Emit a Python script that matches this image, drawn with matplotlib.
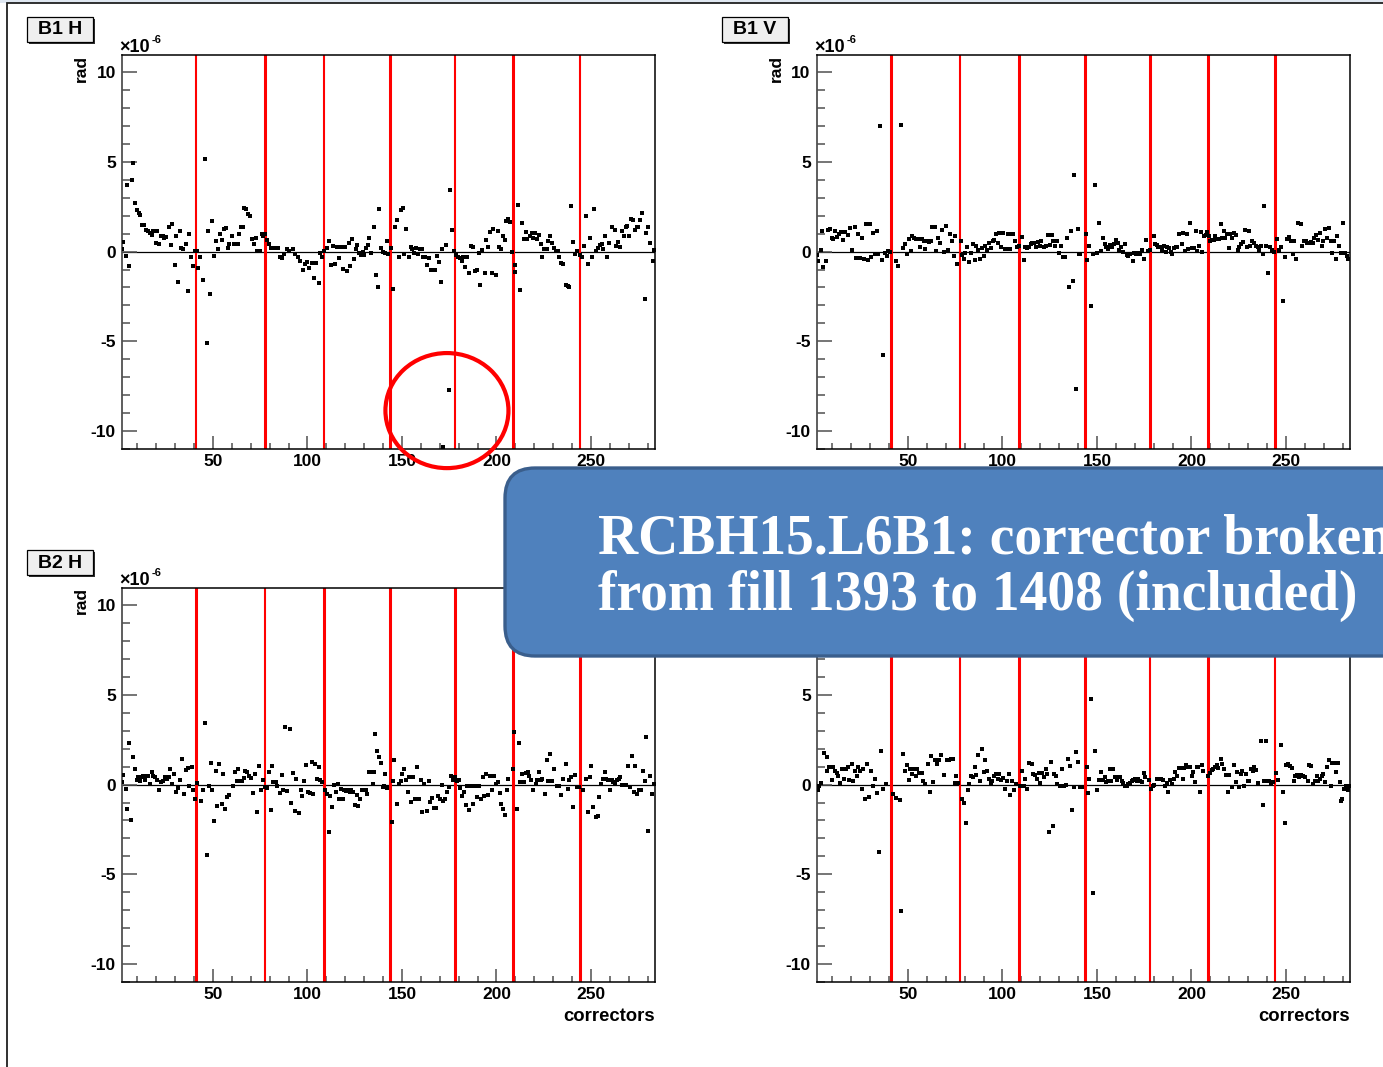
import matplotlib
matplotlib.use('Agg')
import matplotlib.pyplot as plt
from matplotlib.patches import Ellipse, FancyBboxPatch, Rectangle
from matplotlib.ticker import MultipleLocator
from matplotlib.transforms import IdentityTransform

plt.rcParams['font.family'] = ['Liberation Sans', 'DejaVu Sans']
plt.rcParams['font.weight'] = 'bold'
plt.rcParams['axes.unicode_minus'] = False

# corrector index / kick (1e-6 rad) per plane
B1H_X = [1.7, 2.6, 3.8, 4.7, 5.7, 7.0, 7.5, 8.6, 9.6, 10.7,
         11.5, 12.3, 13.7, 14.5, 15.4, 16.7, 17.5, 18.4, 19.7, 20.5,
         21.6, 22.3, 23.4, 24.2, 25.1, 26.7, 27.6, 28.5, 29.9, 30.6,
         31.5, 32.5, 33.2, 34.3, 35.7, 36.8, 37.5, 38.5, 39.6, 40.5,
         41.4, 42.1, 43.1, 44.5, 45.8, 46.8, 47.4, 48.4, 49.6, 50.5,
         51.6, 52.6, 53.5, 54.6, 55.6, 56.7, 57.8, 58.6, 59.9, 60.9,
         62.0, 63.0, 63.8, 64.6, 65.7, 66.6, 67.5, 68.7, 69.8, 70.6,
         71.7, 72.6, 73.5, 74.7, 75.7, 76.6, 77.7, 78.6, 79.6, 80.7,
         81.9, 83.2, 84.6, 85.6, 86.7, 87.6, 89.0, 90.4, 92.1, 93.4,
         94.8, 96.0, 97.4, 98.7, 99.7, 101.0, 102.4, 103.4, 104.7, 105.9,
         106.8, 107.8, 108.9, 110.1, 111.4, 112.4, 113.7, 114.5, 115.6, 116.5,
         117.5, 118.8, 119.8, 120.7, 121.8, 122.5, 123.5, 124.6, 125.5, 126.4,
         127.4, 128.1, 129.2, 130.1, 131.0, 131.8, 132.7, 133.8, 135.0, 136.1,
         137.1, 137.7, 138.9, 140.1, 141.2, 141.9, 142.8, 144.2, 145.1, 146.3,
         147.6, 148.5, 149.3, 150.4, 151.3, 152.3, 153.6, 154.6, 155.5, 156.6,
         157.4, 158.3, 159.4, 160.4, 161.3, 162.4, 163.4, 164.5, 165.6, 166.6,
         167.5, 168.4, 169.4, 170.7, 171.2, 171.7, 173.5, 174.9, 175.4, 176.5,
         177.6, 178.6, 179.7, 180.7, 181.6, 182.5, 183.5, 184.6, 185.3, 186.5,
         187.8, 188.7, 189.9, 190.8, 191.3, 192.5, 193.8, 194.5, 195.5, 196.6,
         197.7, 198.4, 199.6, 200.8, 201.4, 202.4, 203.5, 204.4, 205.2, 206.3,
         207.2, 208.2, 209.7, 210.0, 211.2, 212.5, 213.7, 214.4, 215.5, 216.4,
         217.6, 218.6, 219.5, 220.4, 221.3, 222.4, 223.4, 224.3, 225.3, 226.6,
         227.5, 228.5, 229.4, 230.3, 231.3, 232.4, 233.3, 234.2, 235.2, 236.6,
         237.7, 238.6, 239.6, 240.3, 241.4, 242.8, 244.2, 245.5, 246.2, 247.4,
         248.6, 249.7, 250.4, 251.5, 252.9, 254.0, 254.8, 255.7, 256.6, 257.5,
         258.5, 259.7, 261.3, 262.7, 263.3, 264.3, 265.4, 266.3, 267.3, 268.4,
         269.3, 270.3, 271.4, 272.4, 273.3, 274.2, 275.1, 276.0, 277.2, 278.6,
         279.1, 280.4, 281.4, 282.7, 283.4]
B1H_Y = [0.13, 0.52, -0.24, 3.68, -0.78, 4.0, 4.96, 2.73, 2.32, 2.17,
         2.04, 1.5, 1.5, 1.2, 1.15, 1.02, 0.91, 1.15, 0.46, 1.15,
         0.41, 0.84, 0.87, 0.74, 0.8, 1.39, 0.35, 1.52, -0.76, 0.84,
         -1.71, 1.15, 0.19, 0.13, 0.41, -2.21, 0.97, -0.28, -0.78, 0.04,
         0.04, -0.89, -0.33, -1.58, 5.18, -5.07, 1.15, -2.38, 1.71, -0.24,
         0.59, 0.15, 0.97, 0.65, 1.26, 1.32, 0.22, 0.41, 0.89, 0.41,
         0.41, 0.41, 0.97, 1.39, 1.39, 2.45, 2.38, 2.1, 2.0, 0.71,
         0.41, 0.78, 0.04, 0.04, 0.97, 0.87, 0.97, 0.65, 0.41, 0.19,
         0.22, 0.22, 0.22, -0.28, -0.37, -0.15, 0.15, 0.04, 0.15, -0.15,
         -0.33, -0.52, -1.02, -0.69, -0.59, -0.93, -0.61, -1.5, -0.61, -1.73,
         -0.09, -0.28, 0.04, 0.22, 0.59, -0.76, 0.32, -0.69, 0.28, -0.37,
         0.28, -0.98, 0.28, -1.11, 0.5, -0.8, 0.69, -0.41, 0.13, 0.37,
         -0.09, -0.19, 0.0, -0.19, 0.22, 0.37, 0.78, -0.09, 1.34, -1.32,
         -2.0, 2.38, 0.22, 0.0, -0.09, 0.59, -0.15, 0.22, -2.08, 1.34,
         1.76, -0.28, 2.32, 2.45, -0.15, 1.26, -0.33, 0.28, 0.13, -0.09,
         0.19, -0.15, 0.15, 0.13, -0.28, -0.33, -0.74, -0.37, -1.02, -1.02,
         -1.02, -0.24, -0.59, -1.71, 0.15, -10.9, 0.35, -7.7, 3.44, 1.21,
         0.04, -0.19, -0.33, -0.37, -0.52, -0.33, -0.84, -0.33, -1.21, 0.33,
         0.28, -1.08, -1.02, -0.09, -1.89, 0.06, -1.21, 0.65, 0.28, 1.11,
         -1.21, 1.26, -1.32, 1.15, 0.28, 0.15, 0.84, 0.65, 1.71, 1.82,
         1.63, -0.02, -1.15, -0.74, 2.6, -2.14, 1.58, 0.71, 1.11, 0.71,
         0.87, 1.06, 0.78, 1.06, 0.71, 0.91, 0.41, -0.28, 0.13, 0.13,
         0.59, 0.84, 0.46, 0.22, 0.04, 0.04, -0.28, -0.65, -0.71, -1.86,
         -1.91, -1.99, 2.56, 0.52, -0.13, 0.04, -0.19, -0.33, 0.33, 2.0,
         -0.71, 0.78, -0.33, 2.38, 0.04, 0.19, 0.37, 0.41, 0.15, 0.84,
         -0.28, 0.46, 1.39, 1.21, 0.33, 0.52, 0.28, 1.15, 0.84, 1.34,
         1.45, 0.89, 1.82, 1.73, 1.21, 1.34, 1.36, 1.73, 2.17, -2.64,
         1.02, 1.39, 0.46, -0.52, 0.06]

B1V_X = [1.7, 2.6, 3.8, 4.7, 5.2, 6.4, 7.5, 8.7, 9.6, 10.5,
         11.5, 12.4, 13.5, 14.5, 15.6, 16.7, 18.1, 19.3, 20.5, 21.8,
         22.7, 23.7, 24.6, 25.7, 26.5, 27.6, 28.7, 29.7, 30.6, 31.5,
         32.5, 33.4, 34.3, 35.4, 36.4, 36.8, 37.8, 38.7, 39.6, 40.6,
         43.5, 44.7, 46.3, 47.2, 48.4, 49.5, 50.3, 51.4, 52.3, 53.3,
         54.4, 55.5, 56.2, 57.2, 58.3, 59.0, 60.1, 61.1, 62.0, 62.9,
         64.1, 64.6, 66.1, 66.9, 68.0, 69.0, 70.3, 71.3, 72.0, 73.3,
         74.3, 75.0, 76.1, 77.9, 78.4, 79.4, 80.3, 81.2, 82.1, 83.5,
         84.2, 85.3, 86.2, 87.0, 88.1, 89.0, 90.0, 90.9, 92.0, 92.9,
         93.7, 94.8, 95.5, 96.4, 97.4, 98.3, 99.2, 100.1, 101.1, 102.0,
         102.9, 103.8, 104.7, 105.7, 106.6, 107.5, 108.9, 110.1, 111.2, 111.9,
         113.0, 114.0, 114.9, 115.8, 116.7, 117.7, 118.6, 119.7, 120.5, 121.8,
         122.8, 123.9, 124.9, 126.0, 126.9, 127.8, 128.8, 129.9, 130.9, 132.0,
         132.9, 134.1, 135.2, 136.1, 137.1, 138.0, 139.0, 139.8, 140.5, 141.2,
         144.2, 144.9, 145.8, 146.9, 148.1, 149.0, 149.9, 151.1, 152.0, 153.0,
         154.1, 155.0, 155.9, 156.7, 157.8, 158.9, 159.9, 161.0, 161.9, 162.7,
         163.6, 164.7, 165.7, 166.6, 167.7, 168.9, 169.8, 170.9, 171.9, 172.8,
         173.7, 174.7, 175.8, 176.8, 178.0, 180.0, 180.7, 181.6, 182.5, 183.6,
         184.6, 185.5, 186.4, 187.3, 188.1, 189.0, 189.7, 190.6, 191.7, 192.5,
         193.6, 194.8, 195.5, 196.6, 197.5, 198.4, 199.4, 200.3, 201.4, 202.2,
         203.0, 203.8, 204.9, 205.7, 206.5, 207.5, 208.4, 209.3, 210.0, 210.9,
         211.8, 212.7, 213.5, 214.4, 215.5, 216.2, 217.2, 218.0, 218.8, 219.7,
         220.4, 221.3, 222.4, 223.4, 224.5, 225.2, 226.1, 227.1, 228.2, 229.6,
         230.3, 231.2, 232.2, 233.3, 234.2, 235.2, 235.8, 236.6, 237.7, 238.4,
         239.6, 240.5, 241.4, 242.5, 243.7, 245.5, 246.3, 247.2, 248.5, 249.5,
         250.4, 251.5, 252.7, 253.6, 254.4, 255.5, 256.6, 257.8, 258.3, 259.6,
         260.4, 261.3, 262.4, 263.3, 264.1, 265.0, 266.1, 267.1, 268.0, 268.9,
         269.8, 270.7, 271.7, 272.8, 273.7, 274.6, 275.6, 276.3, 277.2, 278.3,
         279.0, 280.0, 281.1, 282.1, 283.0]
B1V_Y = [-0.19, -0.5, 0.09, 1.15, -0.84, -0.52, 1.21, 1.26, 0.74, 0.69,
         1.17, 0.8, 0.97, 1.08, 0.65, 1.08, 0.93, 1.3, 0.09, 1.39,
         -0.37, 0.97, -0.37, 0.74, -0.43, 1.52, -0.46, 1.54, -0.28, 1.06,
         -0.13, 1.15, -0.13, 7.0, -0.46, -5.74, -0.09, -0.22, 0.04, 0.0,
         -0.52, -0.78, 7.06, 0.22, 0.43, -0.15, 0.69, 0.04, 0.84, 0.78,
         0.69, 0.72, 0.28, 0.71, 0.59, 0.15, 0.61, 0.52, 0.59, 1.34,
         1.34, 0.04, 0.78, 0.46, 1.21, 0.0, 1.45, 0.09, 0.97, 0.59,
         -0.22, 0.84, -0.71, 0.59, -0.19, -0.43, -0.09, 0.28, -0.59, -0.06,
         0.41, -0.46, 0.33, 0.09, -0.41, 0.19, -0.22, 0.33, 0.06, 0.46,
         0.19, 0.59, 0.65, 0.97, 0.46, 1.02, 0.28, 1.02, 0.15, 0.15,
         0.97, 0.15, 0.97, 0.97, 0.59, 0.28, 0.33, 0.8, -0.46, 0.28,
         0.19, 0.28, 0.41, 0.46, 0.46, 0.28, 0.52, 0.32, 0.56, 0.28,
         0.33, 0.93, 0.37, 0.93, 0.56, 0.33, 0.56, -0.09, 0.33, -0.28,
         -0.33, 0.78, -2.0, 1.15, -1.63, 4.27, -7.63, 1.26, -0.13, -0.15,
         0.97, -0.46, 0.33, -3.06, -0.13, 3.71, -0.09, 1.58, 0.04, 0.78,
         0.41, 0.28, 0.13, 0.37, 0.28, 0.41, 0.65, 0.46, 0.09, 0.24,
         0.0, 0.41, -0.19, -0.22, -0.15, -0.52, -0.09, -0.13, -0.09, -0.13,
         0.06, -0.41, 0.65, 0.04, 0.1, 0.84, 0.43, 0.37, 0.28, 0.28,
         0.09, 0.33, 0.0, 0.28, 0.19, 0.0, -0.15, 0.22, 0.28, 0.24,
         0.97, 0.41, 1.02, 0.04, 0.98, 0.15, 1.58, 0.19, 0.19, 1.15,
         0.04, 0.33, 1.08, 0.0, 0.84, 0.93, 1.08, 0.87, 0.59, 0.65,
         0.65, 0.84, 0.69, 0.69, 1.52, 0.78, 1.15, 0.78, 0.97, 0.22,
         0.97, 0.78, 1.02, 0.93, 0.09, 0.28, 0.41, 0.52, 1.21, 0.28,
         1.15, 0.33, 0.61, 0.46, 0.33, 0.28, 0.06, 0.33, -0.13, 2.51,
         0.33, -1.21, 0.28, 0.06, 0.0, 0.69, 0.09, 0.28, -2.75, -0.33,
         0.69, 0.8, 0.56, -0.15, 0.59, -0.41, 1.58, 1.52, 0.33, 0.56,
         0.59, 0.46, 0.46, 0.52, 0.46, 0.78, 0.93, 0.65, 1.02, 0.33,
         0.59, 1.26, 0.78, 1.3, 0.59, -0.09, 0.56, -0.41, 0.89, 0.33,
         -0.09, 1.58, -0.09, -0.22, -0.41]

B2H_X = [1.7, 2.6, 4.0, 4.7, 5.7, 6.8, 7.5, 8.7, 9.6, 10.5,
         11.4, 12.3, 13.1, 14.0, 14.9, 15.8, 16.7, 17.5, 18.4, 19.3,
         20.2, 21.6, 22.7, 23.7, 24.6, 25.5, 26.5, 27.4, 28.5, 29.5,
         30.4, 31.7, 32.7, 33.4, 34.7, 35.7, 36.6, 37.5, 38.7, 39.4,
         40.5, 41.4, 43.5, 44.5, 45.8, 46.6, 47.7, 48.8, 49.5, 50.5,
         51.6, 52.3, 53.3, 54.6, 55.5, 56.3, 57.2, 58.3, 60.4, 61.5,
         62.5, 63.4, 64.3, 65.3, 66.2, 67.1, 68.2, 69.0, 70.1, 71.0,
         72.0, 73.3, 74.5, 75.2, 76.3, 77.5, 78.4, 79.5, 80.5, 81.2,
         81.9, 83.2, 84.0, 85.3, 86.3, 87.2, 88.3, 89.3, 90.7, 91.1,
         92.1, 93.4, 94.1, 95.3, 96.4, 97.1, 98.1, 99.4, 100.3, 101.3,
         102.2, 103.1, 103.8, 104.8, 105.9, 106.6, 107.5, 109.3, 110.5, 111.2,
         111.9, 113.0, 114.0, 115.1, 116.0, 116.8, 117.7, 118.6, 119.5, 120.4,
         121.4, 122.5, 123.2, 124.2, 125.1, 126.0, 126.9, 127.8, 128.8, 129.9,
         130.8, 131.7, 132.7, 133.6, 134.5, 135.4, 135.9, 137.0, 137.8, 138.7,
         139.8, 140.5, 141.2,
         141.9, 144.6, 145.1, 146.0, 147.2, 148.3, 149.3, 150.2, 151.1, 152.2,
         153.0, 153.9, 154.8, 155.7, 156.9, 157.8, 158.9, 159.9, 160.8, 161.9,
         163.1, 164.2, 164.9, 165.7, 167.0, 167.9, 168.9, 170.1, 171.0, 171.9,
         172.8, 173.7, 174.7, 175.8, 176.8, 178.1, 178.9, 180.0, 180.9, 181.8,
         182.7, 183.7, 184.6, 185.7, 186.5, 187.8, 188.5, 189.5, 190.6, 191.7,
         192.7, 193.6, 194.5, 195.5, 196.6, 197.8, 198.9, 199.8, 200.8, 201.9,
         202.6, 203.7, 204.5, 205.4, 206.3, 209.0, 209.5, 210.7, 211.8, 212.7,
         213.4, 214.4, 215.5, 216.5, 217.4, 218.3, 219.5, 220.8, 221.3, 222.5,
         223.4, 224.3, 225.5, 226.6, 227.5, 228.3, 229.6, 230.6, 231.9, 233.0,
         234.2, 235.4, 236.6, 237.7, 238.6, 239.5, 240.7, 241.6, 242.5, 243.7,
         245.9, 247.2, 248.5, 249.5, 250.0, 251.3, 252.7, 253.7, 254.3, 255.3,
         256.4, 257.3, 258.0, 259.1, 260.1, 261.0, 261.9, 262.9, 263.8, 264.7,
         265.6, 266.6, 267.7, 268.6, 269.6, 270.7, 271.6, 272.8, 273.5, 274.4,
         275.4, 276.3, 277.4, 278.4, 279.1, 280.4, 281.3, 282.3, 283.4]
B2H_Y = [0.13, 0.52, -0.24, -1.34, 2.32, -1.95, 1.52, 0.84, 0.28, 0.41,
         0.19, 0.41, 0.46, 0.28, 0.46, 0.5, 0.04, 0.69, 0.5, 0.41,
         0.28, -0.28, 0.13, 0.22, 0.41, 0.33, 0.41, 0.84, 0.04, 0.61,
         -0.41, -0.19, 0.28, 1.45, -0.52, 0.8, 0.93, -0.09, 0.97, -0.28,
         -0.78, 0.09, -0.89, -0.33, 3.44, -3.9, -0.06, 1.21, -0.28, -2.04,
         0.78, -1.17, 1.15, -1.06, 0.59, -1.34, -0.71, -0.56, -0.06, 0.71,
         0.19, 0.89, 0.19, 0.19, 0.37, 0.74, 0.69, 0.46, 0.37, -0.46,
         0.59, -1.52, 1.02, -0.32, 0.28, -0.15, -0.19, 0.69, -1.39, 1.02,
         0.13, 0.13, -0.06, -0.46, 0.52, -0.33, 3.19, -0.37, 3.12, -1.02,
         0.65, -1.45, 0.33, -1.58, -0.28, -0.65, 0.22, 1.08, -0.41, -0.46,
         1.26, -0.52, 1.15, 0.33, 0.97, 0.28, 0.13, -0.28, -0.52, -2.64,
         -0.65, -1.26, -0.04, -0.41, 0.04, -0.78, -0.24, -0.78, -0.28, -0.37,
         -0.28, -0.41, -0.28, -0.41, -1.15, -0.59, -1.21, -0.78, -0.28, -0.28,
         -0.33, -0.52, 0.69, 0.69, 0.04, 0.69, 2.82, 1.89, 1.52, 1.21,
         -0.15, -0.06, 0.59,
         -0.19, -2.08, 0.22, 1.34, -1.08, 0.04, 0.19, 0.56, 0.84, 0.28,
         -0.41, 0.41, -0.97, 0.41, -0.78, 0.97, -0.78, 0.28, -1.52, 0.04,
         -1.49, 0.22, -0.97, -0.74, -1.3, -1.3, -0.65, -0.78, -0.04, -0.89,
         -0.78, -0.41, -0.13, 0.46, 0.28, 0.41, 0.22, 0.28, -0.19, -0.65,
         -0.41, -1.15, -0.09, -1.43, -0.09, -1.11, -0.09, -0.71, -0.09, -0.78,
         0.41, -0.65, 0.59, -0.59, 0.46, -0.28, 0.46, 0.04, 0.15, -0.46,
         -1.06, -1.34, -1.71, -0.28, 0.33, 0.89, 2.93, -1.34, 2.32, 0.15,
         0.61, 0.15, 0.65, 0.69, 0.46, 0.28, -0.28, 0.04, 0.28, 0.69,
         0.28, 0.33, -0.52, 1.39, 0.22, 1.71, 0.22, 0.84, -0.09, -0.09,
         -0.59, 0.33, 1.15, -0.22, 0.28, 0.41, -1.26, 0.52, -0.13, -0.13,
         -0.28, 0.33, -1.52, 0.41, 1.02, -1.26, -1.82, -1.76, -0.71, 0.04,
         0.33, 0.71, 0.33, 0.28, -0.28, 0.28, 0.13, 0.09, 0.28, 0.33,
         0.41, -0.04, -0.04, -0.04, 1.02, -0.13, 1.58, -0.41, 1.02, -0.52,
         -0.33, -0.33, 0.78, 0.22, 2.64, -2.56, 0.46, -0.52, 0.04]

B2V_X = [2.2, 2.9, 4.0, 5.6, 7.0, 7.3, 8.4, 9.6, 10.5, 11.4,
         12.3, 13.1, 14.2, 15.3, 16.3, 17.0, 18.1, 19.0, 20.2, 21.1,
         22.0, 22.8, 23.7, 24.8, 25.7, 26.4, 27.2, 28.3, 29.5, 30.4,
         31.3, 32.5, 33.4, 34.5, 35.7, 36.9, 38.4, 42.2, 43.5, 45.8,
         46.3, 47.4, 48.4, 49.3, 50.4, 51.2, 52.3, 53.2, 54.1, 54.9,
         56.0, 57.2, 58.1, 59.0, 60.4, 61.6, 62.3, 63.4, 64.5, 65.5,
         66.6, 67.6, 69.2, 70.5, 71.7, 72.6, 73.6, 74.9, 75.4, 76.3,
         78.7, 79.5, 80.5, 81.6, 82.4, 83.3, 84.4, 85.3, 86.2, 87.2,
         88.3, 89.3, 90.2, 90.9, 92.0, 92.9, 93.7, 94.6, 95.5, 96.4,
         97.4, 98.3, 99.2, 100.1, 101.3, 102.4, 103.4, 104.0, 104.8, 105.9,
         107.0, 109.3, 110.3, 111.2, 111.9, 113.1, 114.2, 115.4, 116.3, 117.2,
         118.3, 119.1, 119.8, 120.9, 121.8, 122.8, 123.7, 124.8, 125.7, 126.5,
         127.4, 128.3, 129.0, 130.2, 131.3, 132.4, 133.4, 134.5, 135.7, 136.8,
         138.0, 138.7, 139.8, 141.0, 142.0, 144.6, 145.1, 146.0, 146.9, 148.1,
         149.0, 150.2, 151.1, 152.0, 153.0, 154.1, 155.0, 155.9, 156.7, 157.6,
         158.7, 159.6, 160.4, 161.3, 162.2, 163.1, 164.0, 164.9, 165.7, 166.6,
         167.5, 168.4, 169.3, 170.1, 171.0, 171.9, 172.8, 173.7, 174.7, 175.4,
         177.6, 178.6, 179.5, 180.4, 181.6, 182.8, 183.9, 185.0, 186.0, 186.9,
         187.8, 188.8, 189.7, 190.6, 191.5, 192.4, 193.4, 194.5, 195.4, 196.2,
         197.3, 198.4, 199.2, 200.1, 200.8, 201.9, 202.8, 203.7, 204.5, 205.4,
         206.3, 208.6, 209.7, 210.7, 211.6, 212.5, 213.4, 214.2, 215.5, 216.4,
         217.4, 218.1, 219.2, 219.5, 220.1, 221.3, 222.5, 223.4, 224.3, 225.2,
         226.1, 226.9, 227.8, 228.7, 229.8, 230.6, 231.5, 232.4, 233.3, 234.0,
         235.4, 236.6, 237.9, 238.6, 239.5, 240.2, 241.2, 242.1, 243.3, 244.6,
         245.6, 247.2, 248.3, 249.5, 250.2, 251.3, 252.2, 253.0, 254.1, 255.0,
         256.0, 256.9, 258.0, 259.2, 260.1, 261.5, 262.4, 263.4, 264.5, 265.4,
         266.3, 267.1, 268.0, 268.9, 269.8, 270.7, 271.6, 272.8, 273.7, 274.6,
         275.6, 276.5, 277.4, 278.4, 279.0, 279.9, 280.7, 281.6, 282.7, 283.4]
B2V_Y = [-0.28, -0.09, 0.06, 1.76, 0.78, 1.52, 0.97, 0.28, 0.97, 0.78,
         0.65, 0.46, 0.09, 0.84, 0.33, 0.84, 0.97, 0.28, 1.15, 0.22,
         0.78, 0.46, 0.97, 0.78, -0.22, 0.87, -0.78, 1.15, -0.69, 0.74,
         -0.09, 0.33, -0.46, -3.75, 1.89, -0.22, 0.04, -0.52, -0.74, -0.84,
         -7.02, 1.71, 0.78, 1.08, 0.28, 0.84, 0.56, 0.87, 0.46, 0.89,
         0.65, 0.65, 0.22, 0.04, 1.15, -0.41, 1.58, 0.15, 1.34, 1.15,
         1.39, 1.63, 0.52, 1.39, 1.39, 1.45, 1.45, 0.09, 0.46, 0.09,
         -0.78, -1.02, -2.14, -0.28, 0.04, 0.46, 0.41, 0.97, 0.52, 1.63,
         0.22, 2.0, 0.71, 1.34, 0.78, 0.33, 0.09, 0.22, 0.46, 0.56,
         0.33, 0.56, 0.28, 0.37, -0.22, 0.22, 0.59, -0.59, 0.22, -0.28,
         0.04, -0.09, 0.78, -0.09, 0.33, -0.22, 1.21, 1.15, 0.59, 0.52,
         0.33, 0.65, 0.09, 0.65, 0.41, 0.89, 0.59, -2.64, 1.26, -2.32,
         0.59, 0.46, 0.04, -0.09, 0.84, -0.09, -0.04, 1.45, 1.02, -1.39,
         -0.15, 1.82, 1.26, -0.15, -0.15, 0.97, -0.46, 0.33, 4.79, -6.04,
         1.89, -0.33, 0.24, 0.71, 0.28, 0.43, 0.15, 0.22, 0.84, 0.22,
         0.84, 0.41, 0.28, 0.43, 0.43, 0.22, 0.09, -0.09, -0.09, 0.04,
         0.09, 0.22, 0.28, 0.33, 0.22, 0.33, 0.22, 0.15, 0.65, 0.41,
         0.28, -0.22, -0.09, -0.04, 0.32, 0.32, 0.32, 0.28, -0.09, 0.09,
         -0.41, 0.28, 0.04, 0.33, 0.71, 0.46, 0.93, 0.93, 0.33, 0.93,
         1.11, 0.97, 0.98, 0.46, 0.69, 0.15, 0.98, 0.98, -0.41, 1.11,
         0.78, 0.46, 0.65, 0.8, 0.84, 0.98, 1.08, 0.93, 1.45, 1.15,
         0.84, 0.52, 0.52, -0.41, 0.52, -0.15, 1.08, 0.15, 0.69, -0.15,
         0.59, 0.78, -0.06, 0.61, 0.22, 0.22, 0.84, 0.78, 0.98, 0.8,
         0.09, 2.45, -1.15, 0.22, 2.45, 0.22, 0.22, 0.04, 0.15, 0.65,
         0.28, 2.19, -0.41, -2.14, 1.08, 1.15, 1.02, 0.93, 0.22, 0.46,
         0.52, 0.43, 0.52, 0.46, 0.41, 0.22, 1.08, 1.02, 0.04, 0.22,
         0.46, 0.22, 0.33, 0.46, 0.59, 0.15, 0.97, 1.34, -0.09, 1.21,
         1.21, 0.71, 1.21, 0.15, -0.89, -0.78, -0.22, -0.09, -0.33, -0.09]

# arc boundaries (corrector index)
BOUNDARIES = [41, 77.5, 108.5, 143.5, 178, 208.5, 244]

W, H = 1383, 1067
fig = plt.figure(figsize=(W / 100, H / 100), dpi=100)
fig.patch.set_facecolor('white')


def fx(x):
    return x / W


def fy(y):
    return 1 - y / H


def frect(x0, y0, x1, y1, **kw):
    return Rectangle((fx(x0), fy(y1)), (x1 - x0) / W, (y1 - y0) / H,
                     transform=fig.transFigure, **kw)


# outer slide frame
fig.add_artist(frect(0, 0, W, 3, facecolor='#dfe7f1', edgecolor='none', zorder=0))
fig.add_artist(frect(7, 3, W + 10, H + 10, facecolor='none', edgecolor='#202020',
                     lw=1.3, zorder=0))

thin, thick = 1.5, 2.2
# name, x, y, left px, top px, boundary widths, header visible
panels = [
    ('B1 H', B1H_X, B1H_Y, 122, 55, [thin, thick, thin, thick, thin, thick, thin], True),
    ('B1 V', B1V_X, B1V_Y, 817, 55, [thick, thin, thick, thick, thick, thick, thick], True),
    ('B2 H', B2H_X, B2H_Y, 122, 588, [thick, thin, thick, thick, thick, thick, thick], True),
    ('B2 V', B2V_X, B2V_Y, 817, 588, [thick, thin, thick, thick, thin, thick, thin], False),
]

axes = []
for name, xs, ys, left, top, widths, header in panels:
    ax = fig.add_axes([fx(left), fy(top + 394), 533 / W, 394 / H])
    axes.append(ax)
    ax.axhline(0, color='black', lw=0.9, zorder=1)
    for b, lw in zip(BOUNDARIES, widths):
        ax.axvline(b, color='red', lw=lw, zorder=2)
    ax.plot(xs, ys, 's', ms=3.3, color='black', mew=0, zorder=3)
    ax.set_xlim(1.85, 283.9)
    ax.set_ylim(-11.0, 10.95)
    ax.set_xticks([50, 100, 150, 200, 250])
    ax.set_yticks([-10, -5, 0, 5, 10])
    ax.xaxis.set_minor_locator(MultipleLocator(10))
    ax.yaxis.set_minor_locator(MultipleLocator(1))
    ax.tick_params(which='both', direction='in', top=False, right=False,
                   color='#505050', width=1.1, labelsize=12.5)
    ax.tick_params(axis='y', which='major', length=11, pad=4.5)
    ax.tick_params(axis='y', which='minor', length=5.5)
    ax.tick_params(axis='x', which='major', length=9.5, pad=3.5)
    ax.tick_params(axis='x', which='minor', length=4.5)
    for side in ['top', 'right', 'bottom']:
        ax.spines[side].set_color('black')
        ax.spines[side].set_linewidth(1.1)
    ax.spines['left'].set_color('#505050')
    ax.spines['left'].set_linewidth(1.3)

    dx = left - 122
    if top > 300:
        fig.text(fx(655 + dx), fy(1021), 'correctors', ha='right', va='baseline',
                 fontsize=13.3, weight='bold')
    if not header:
        # this header sits under the callout box
        continue
    dy = top - 55
    # panel tag with drop shadow
    fig.add_artist(frect(29 + dx, 19 + dy, 95 + dx, 44 + dy, facecolor='#303030',
                         edgecolor='none', zorder=4))
    fig.add_artist(frect(27 + dx, 17 + dy, 93 + dx, 42 + dy, facecolor='#efefef',
                         edgecolor='black', lw=0.9, zorder=5))
    fig.text(fx(60 + dx), fy(30 + dy), name, ha='center', va='center',
             fontsize=14, weight='bold', zorder=6)
    fig.text(fx(119 + dx), fy(52 + dy), '\u00d710', ha='left', va='baseline',
             fontsize=13, weight='bold')
    fig.text(fx(152 + dx), fy(43 + dy), '-6', ha='left', va='baseline',
             fontsize=8, weight='bold')
    fig.text(fx(81 + dx), fy(68 + dy), 'rad', ha='center', va='center',
             rotation=90, fontsize=12.5, weight='bold')

# highlighted broken corrector in B1 H
axes[0].add_patch(Ellipse((173.8, -8.86), 65.1, 6.41, fill=False, edgecolor='red',
                          lw=3.0, clip_on=False, zorder=6))

# callout box
box = FancyBboxPatch((505, H - 656), 1000, 188,
                     boxstyle='round,pad=0,rounding_size=30',
                     facecolor='#4f81bd', edgecolor='#3a5e8c', lw=2.4,
                     transform=IdentityTransform(), zorder=20)
fig.add_artist(box)
fig.text(fx(598), fy(553), 'RCBH15.L6B1: corrector broken', ha='left', va='baseline',
         fontsize=40, weight='bold', color='white', family=['Liberation Serif'],
         zorder=21)
fig.text(fx(598), fy(610), 'from fill 1393 to 1408 (included)', ha='left',
         va='baseline', fontsize=40, weight='bold', color='white',
         family=['Liberation Serif'], zorder=21)

fig.savefig('out.png', dpi=100)
